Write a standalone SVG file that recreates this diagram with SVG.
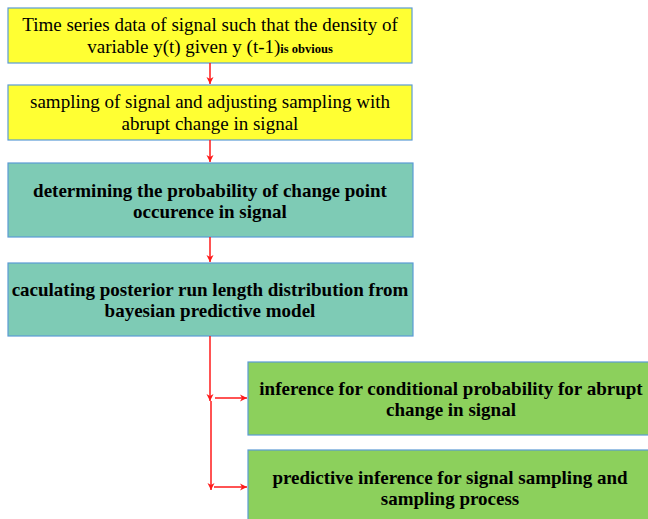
<svg xmlns="http://www.w3.org/2000/svg" width="648" height="519" viewBox="0 0 648 519">
<defs>
<marker id="ah" markerWidth="8" markerHeight="8" refX="7" refY="4" orient="auto" markerUnits="userSpaceOnUse">
<path d="M0,0.5 L7,4 L0,7.5 L2,4 Z" fill="#FF1A1A"/>
</marker>
<style>
.box{stroke:#5B9BD5;stroke-width:1.2}
.y{fill:#FFFF33}
.t{fill:#7ECBB5}
.g{fill:#8CD05C}
.reg{font-family:"Liberation Serif",serif;font-size:19px;fill:#000;text-anchor:middle}
.bold{font-family:"Liberation Serif",serif;font-size:19px;font-weight:bold;fill:#000;text-anchor:middle}
.c{stroke:#FF1A1A;stroke-width:1.5;fill:none}
</style>
</defs>
<rect width="648" height="519" fill="#fff"/>
<g id="n1">
<rect class="box y" x="8" y="8" width="404" height="55"/>
<text class="reg" x="210" y="31">Time series data of signal such that the density of</text>
<text class="reg" x="210" y="53">variable y(t) given y (t-1)<tspan font-weight="bold" font-size="12.5">is obvious</tspan></text>
</g>
<g id="n2">
<rect class="box y" x="8" y="85" width="404" height="55"/>
<text class="reg" x="210" y="108">sampling of signal and adjusting sampling with</text>
<text class="reg" x="210" y="130">abrupt change in signal</text>
</g>
<g id="n3">
<rect class="box t" x="8" y="163" width="405" height="74"/>
<text class="bold" x="210" y="197">determining the probability of change point</text>
<text class="bold" x="210" y="218">occurence in signal</text>
</g>
<g id="n4">
<rect class="box t" x="8" y="263" width="405" height="73"/>
<text class="bold" x="210" y="296">caculating posterior run length distribution from</text>
<text class="bold" x="210" y="317">bayesian predictive model</text>
</g>
<g id="n5">
<rect class="box g" x="248" y="362" width="410" height="73"/>
<text class="bold" x="451" y="395">inference for conditional probability for abrupt</text>
<text class="bold" x="451" y="416">change in signal</text>
</g>
<g id="n6">
<rect class="box g" x="248" y="450" width="410" height="80"/>
<text class="bold" x="450" y="484">predictive inference for signal sampling and</text>
<text class="bold" x="450" y="505">sampling process</text>
</g>
<g id="connectors">
<line class="c" x1="210" y1="63" x2="210" y2="84" marker-end="url(#ah)"/>
<line class="c" x1="210" y1="140" x2="210" y2="162" marker-end="url(#ah)"/>
<line class="c" x1="210" y1="237" x2="210" y2="262" marker-end="url(#ah)"/>
<line class="c" x1="210" y1="336" x2="210" y2="401" marker-end="url(#ah)"/>
<line class="c" x1="211" y1="401" x2="211" y2="490" marker-end="url(#ah)"/>
<line class="c" x1="215" y1="398" x2="247" y2="398" marker-end="url(#ah)"/>
<line class="c" x1="214" y1="487" x2="247" y2="487" marker-end="url(#ah)"/>
</g>
</svg>
